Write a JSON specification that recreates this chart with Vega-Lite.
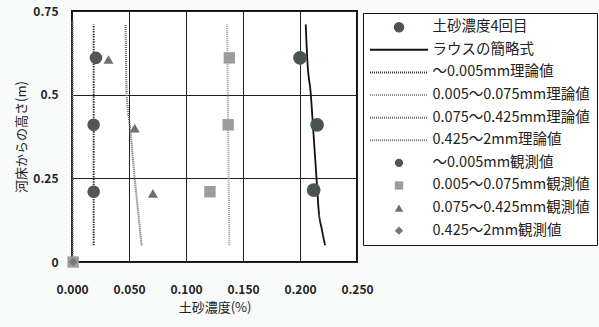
{
  "$schema": "https://vega.github.io/schema/vega-lite/v6.json",
  "autosize": "none",
  "width": 285,
  "height": 251,
  "padding": {"left": 72, "top": 11, "right": 242, "bottom": 65},
  "background": "#f9fbfb",
  "config": {
    "font": "Noto Sans CJK JP",
    "view": {"stroke": "#111", "strokeWidth": 2, "fill": "#ffffff"},
    "axis": {"grid": true, "gridColor": "#222", "gridOpacity": 1, "gridWidth": 1, "domain": false, "ticks": false,
      "labelFont": "Noto Sans CJK JP", "labelFontSize": 12, "labelFontWeight": "bold", "labelColor": "#222",
      "titleFont": "Noto Sans CJK JP", "titleFontSize": 13, "titleFontWeight": "normal", "titleColor": "#222"}
  },
  "data": {"values": [
    {"series": "土砂濃度4回目", "x": 0.200, "y": 0.61},
    {"series": "土砂濃度4回目", "x": 0.215, "y": 0.41},
    {"series": "土砂濃度4回目", "x": 0.212, "y": 0.215},
    {"series": "ラウスの簡略式", "x": 0.205, "y": 0.71},
    {"series": "ラウスの簡略式", "x": 0.2065, "y": 0.6},
    {"series": "ラウスの簡略式", "x": 0.2095, "y": 0.5},
    {"series": "ラウスの簡略式", "x": 0.2115, "y": 0.4},
    {"series": "ラウスの簡略式", "x": 0.2135, "y": 0.3},
    {"series": "ラウスの簡略式", "x": 0.2145, "y": 0.25},
    {"series": "ラウスの簡略式", "x": 0.2165, "y": 0.15},
    {"series": "ラウスの簡略式", "x": 0.219, "y": 0.1},
    {"series": "ラウスの簡略式", "x": 0.222, "y": 0.05},
    {"series": "～0.005mm理論値", "x": 0.019, "y": 0.71},
    {"series": "～0.005mm理論値", "x": 0.019, "y": 0.4},
    {"series": "～0.005mm理論値", "x": 0.019, "y": 0.05},
    {"series": "0.005～0.075mm理論値", "x": 0.136, "y": 0.71},
    {"series": "0.005～0.075mm理論値", "x": 0.137, "y": 0.4},
    {"series": "0.005～0.075mm理論値", "x": 0.138, "y": 0.05},
    {"series": "0.075～0.425mm理論値", "x": 0.047, "y": 0.71},
    {"series": "0.075～0.425mm理論値", "x": 0.048, "y": 0.5},
    {"series": "0.075～0.425mm理論値", "x": 0.051, "y": 0.4},
    {"series": "0.075～0.425mm理論値", "x": 0.055, "y": 0.25},
    {"series": "0.075～0.425mm理論値", "x": 0.058, "y": 0.15},
    {"series": "0.075～0.425mm理論値", "x": 0.061, "y": 0.05},
    {"series": "0.425～2mm理論値", "x": 0.0005, "y": 0.72},
    {"series": "0.425～2mm理論値", "x": 0.0005, "y": 0.0},
    {"series": "～0.005mm観測値", "x": 0.021, "y": 0.61},
    {"series": "～0.005mm観測値", "x": 0.019, "y": 0.41},
    {"series": "～0.005mm観測値", "x": 0.019, "y": 0.21},
    {"series": "0.005～0.075mm観測値", "x": 0.138, "y": 0.61},
    {"series": "0.005～0.075mm観測値", "x": 0.137, "y": 0.41},
    {"series": "0.005～0.075mm観測値", "x": 0.121, "y": 0.21},
    {"series": "0.005～0.075mm観測値", "x": 0.001, "y": 0.0},
    {"series": "0.075～0.425mm観測値", "x": 0.032, "y": 0.605},
    {"series": "0.075～0.425mm観測値", "x": 0.055, "y": 0.40},
    {"series": "0.075～0.425mm観測値", "x": 0.071, "y": 0.205},
    {"series": "0.425～2mm観測値", "x": 0.001, "y": 0.0}
  ]},
  "encoding": {
    "x": {"field": "x", "type": "quantitative",
      "scale": {"domain": [0, 0.25], "nice": false, "zero": false},
      "axis": {"values": [0, 0.05, 0.1, 0.15, 0.2, 0.25], "format": ".3f", "labelFlush": false, "labelPadding": 22, "title": "土砂濃度(%)", "titlePadding": 6}},
    "y": {"field": "y", "type": "quantitative",
      "scale": {"domain": [0, 0.75], "nice": false},
      "axis": {"values": [0, 0.25, 0.5, 0.75], "labelExpr": "'' + datum.value", "labelPadding": 14, "labelFlush": false, "title": "河床からの高さ(m)", "titlePadding": 4}},
    "color": {"field": "series", "type": "nominal", "title": null,
      "scale": {
        "domain": ["土砂濃度4回目", "ラウスの簡略式", "～0.005mm理論値", "0.005～0.075mm理論値", "0.075～0.425mm理論値", "0.425～2mm理論値", "～0.005mm観測値", "0.005～0.075mm観測値", "0.075～0.425mm観測値", "0.425～2mm観測値"],
        "range": ["#4a5450", "#111111", "#333333", "#9a9a9a", "#666666", "#777777", "#555555", "#9c9c9c", "#707070", "#777777"]
      },
      "legend": {
        "orient": "none", "legendX": 291, "legendY": 2,
        "strokeColor": "#111", "fillColor": "#ffffff", "padding": 7,
        "labelFont": "Noto Sans CJK JP", "labelFontSize": 14.5, "labelColor": "#222", "labelLimit": 300,
        "rowPadding": 7.6, "labelOffset": 48, "symbolSize": 100,
        "encode": {"symbols": {"update": {
          "x": {"value": 29},
          "size": {"signal": "indexof(['ラウスの簡略式','～0.005mm理論値','0.005～0.075mm理論値','0.075～0.425mm理論値','0.425～2mm理論値'], datum.value) >= 0 ? 3364 : (datum.value === '土砂濃度4回目' ? 110 : 70)"},
          "strokeWidth": {"signal": "indexof(['ラウスの簡略式','～0.005mm理論値','0.005～0.075mm理論値','0.075～0.425mm理論値','0.425～2mm理論値'], datum.value) >= 0 ? 2 : 0"},
          "strokeDash": {"signal": "indexof(['～0.005mm理論値','0.005～0.075mm理論値','0.075～0.425mm理論値','0.425～2mm理論値'], datum.value) >= 0 ? [1, 1] : [1, 0]"}
        }}}
      }
    }
  },
  "layer": [
    {
      "transform": [{"filter": "indexof(datum.series, '理論値') >= 0 || datum.series == 'ラウスの簡略式'"}],
      "mark": {"type": "line", "interpolate": "monotone"},
      "encoding": {
        "order": {"field": "y", "type": "quantitative"},
        "strokeDash": {"field": "series", "type": "nominal", "legend": null,
          "scale": {"domain": ["ラウスの簡略式", "～0.005mm理論値", "0.005～0.075mm理論値", "0.075～0.425mm理論値", "0.425～2mm理論値"],
            "range": [[1, 0], [1.5, 1], [1, 1], [1, 1], [1, 1]]}},
        "strokeWidth": {"field": "series", "type": "nominal", "legend": null,
          "scale": {"domain": ["ラウスの簡略式", "～0.005mm理論値", "0.005～0.075mm理論値", "0.075～0.425mm理論値", "0.425～2mm理論値"],
            "range": [1.8, 2.2, 2.2, 2.2, 2.5]}}
      }
    },
    {
      "transform": [{"filter": "datum.series == '土砂濃度4回目' || indexof(datum.series, '観測値') >= 0"}],
      "mark": {"type": "point", "filled": true, "opacity": 1},
      "encoding": {
        "shape": {"field": "series", "type": "nominal", "title": null,
          "scale": {
            "domain": ["土砂濃度4回目", "ラウスの簡略式", "～0.005mm理論値", "0.005～0.075mm理論値", "0.075～0.425mm理論値", "0.425～2mm理論値", "～0.005mm観測値", "0.005～0.075mm観測値", "0.075～0.425mm観測値", "0.425～2mm観測値"],
            "range": ["circle", "stroke", "stroke", "stroke", "stroke", "stroke", "circle", "square", "triangle-up", "diamond"]
          }},
        "size": {"field": "series", "type": "nominal", "legend": null,
          "scale": {"domain": ["土砂濃度4回目", "～0.005mm観測値", "0.005～0.075mm観測値", "0.075～0.425mm観測値", "0.425～2mm観測値"],
            "range": [190, 70, 150, 110, 110]}}
      }
    }
  ]
}
